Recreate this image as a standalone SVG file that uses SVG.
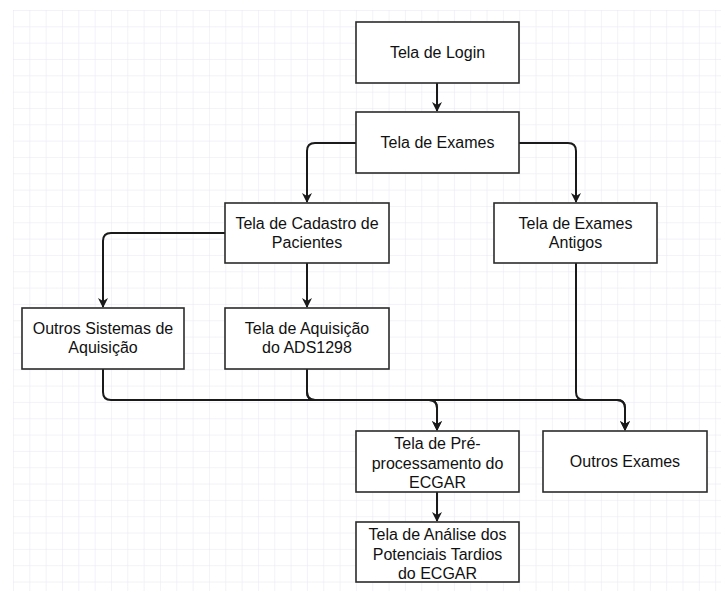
<svg xmlns="http://www.w3.org/2000/svg" width="721" height="591" viewBox="0 0 721 591">
<style>
.box{fill:#ffffff;stroke:#2b2b2b;stroke-width:1.6}
.lbl{font-family:"Liberation Sans",Arial,sans-serif;font-size:16px;fill:#111;text-anchor:middle}
.edge{fill:none;stroke:#1a1a1a;stroke-width:2}
</style>
<defs>
<pattern id="grid" x="13" y="10" width="16.33" height="16.33" patternUnits="userSpaceOnUse">
<path d="M0 0H16.33M0 0V16.33" fill="none" stroke="#e6e6f2" stroke-width="1"/>
</pattern>
<marker id="arr" viewBox="0 0 10 10" refX="9" refY="5" markerWidth="5" markerHeight="5" orient="auto" markerUnits="strokeWidth">
<path d="M0 0L10 5L0 10L3 5Z" fill="#1a1a1a"/>
</marker>
</defs>
<rect width="721" height="591" fill="#ffffff"/>
<rect x="13" y="10" width="708" height="581" fill="url(#grid)"/>
<g id="connectors">
<path class="edge" d="M437 83V111" marker-end="url(#arr)"/>
<path class="edge" d="M356 143H315Q307 143 307 151V202" marker-end="url(#arr)"/>
<path class="edge" d="M519 143H568Q576 143 576 151V202" marker-end="url(#arr)"/>
<path class="edge" d="M225 233H111Q103 233 103 241V307" marker-end="url(#arr)"/>
<path class="edge" d="M307 263V307" marker-end="url(#arr)"/>
<path class="edge" d="M103 369V392Q103 400 111 400H429Q437 400 437 408V430" marker-end="url(#arr)"/>
<path class="edge" d="M307 369V392Q307 400 315 400H429Q437 400 437 408V430" marker-end="url(#arr)"/>
<path class="edge" d="M307 369V392Q307 400 315 400H617Q625 400 625 408V430" marker-end="url(#arr)"/>
<path class="edge" d="M576 263V392Q576 400 584 400H617Q625 400 625 408V430" marker-end="url(#arr)"/>
<path class="edge" d="M437 492V521" marker-end="url(#arr)"/>
</g>
<g id="login"><rect class="box" x="356" y="22" width="163" height="61"/><text class="lbl" x="437.5" y="58">Tela de Login</text></g>
<g id="exames"><rect class="box" x="356" y="112" width="163" height="61"/><text class="lbl" x="437.5" y="148">Tela de Exames</text></g>
<g id="cadastro"><rect class="box" x="225" y="203" width="164" height="60"/><text class="lbl" x="307" y="229">Tela de Cadastro de</text><text class="lbl" x="307" y="248">Pacientes</text></g>
<g id="antigos"><rect class="box" x="494" y="203" width="163" height="60"/><text class="lbl" x="575.5" y="229">Tela de Exames</text><text class="lbl" x="575.5" y="248">Antigos</text></g>
<g id="outros-sistemas"><rect class="box" x="22" y="308" width="162" height="61"/><text class="lbl" x="103" y="334">Outros Sistemas de</text><text class="lbl" x="103" y="353">Aquisição</text></g>
<g id="aquisicao"><rect class="box" x="225" y="308" width="164" height="61"/><text class="lbl" x="307" y="334">Tela de Aquisição</text><text class="lbl" x="307" y="353">do ADS1298</text></g>
<g id="pre"><rect class="box" x="356" y="431" width="163" height="61"/><text class="lbl" x="437.5" y="449">Tela de Pré-</text><text class="lbl" x="437.5" y="468.5">processamento do</text><text class="lbl" x="437.5" y="488">ECGAR</text></g>
<g id="outros-exames"><rect class="box" x="543" y="431" width="164" height="61"/><text class="lbl" x="625" y="467">Outros Exames</text></g>
<g id="analise"><rect class="box" x="356" y="522" width="163" height="60"/><text class="lbl" x="437.5" y="540">Tela de Análise dos</text><text class="lbl" x="437.5" y="559.5">Potenciais Tardios</text><text class="lbl" x="437.5" y="579">do ECGAR</text></g>
</svg>
